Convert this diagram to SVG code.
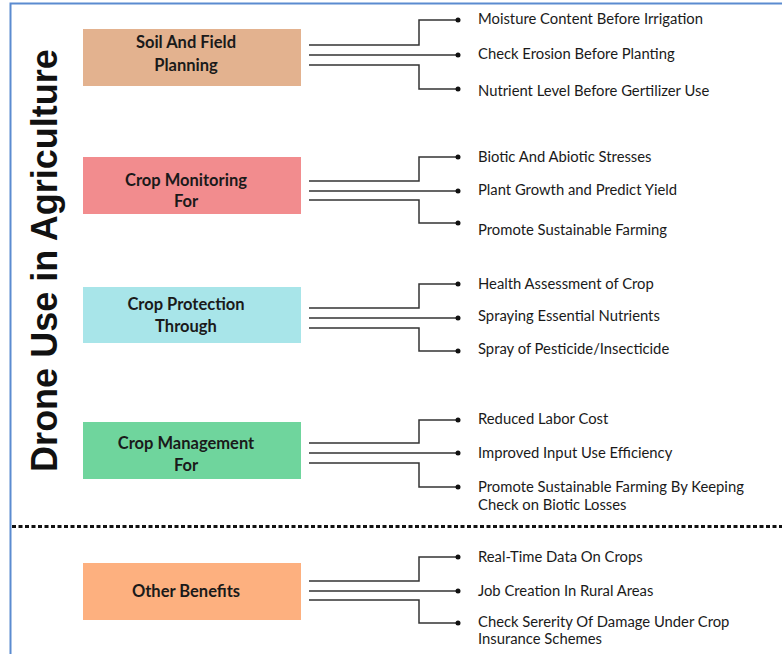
<svg xmlns="http://www.w3.org/2000/svg" width="782" height="654" viewBox="0 0 782 654">
  <style>
    .frame { stroke: #5b8bd0; stroke-width: 2; fill: none; }
    .box { stroke: none; }
    .label { font-family: Lato, "Open Sans", sans-serif; font-weight: bold; font-size: 16.5px; fill: #1a1a1a; text-anchor: middle; }
    .item { font-family: Lato, "Open Sans", sans-serif; font-size: 14.8px; fill: #1a1a1a; }
    .title { font-family: "Liberation Sans", Arial, sans-serif; font-weight: bold; font-size: 36px; fill: #111; text-anchor: middle; }
    .wire { stroke: #333; stroke-width: 1.5; fill: none; }
    .dot { fill: #111; }
    .sep { stroke: #111; stroke-width: 3; stroke-dasharray: 4 2.5; }
  </style>

  <rect width="782" height="654" fill="#ffffff"/>
  <!-- page frame: top and left edges -->
  <path class="frame" d="M782 3.5 H10.5 V654"/>

  <text class="title" transform="translate(57 260.5) rotate(-90)">Drone Use in Agriculture</text>

  <line class="sep" x1="12" y1="526.5" x2="782" y2="526.5"/>

  <!-- category nodes -->
  <g id="soil">
    <rect class="box" x="83" y="29" width="218" height="57" fill="#e3b28f"/>
    <text class="label" x="186" y="48">Soil And Field</text>
    <text class="label" x="186" y="71">Planning</text>
  </g>
  <g id="monitoring">
    <rect class="box" x="83" y="157" width="218" height="57" fill="#f28c8e"/>
    <text class="label" x="186" y="186">Crop Monitoring</text>
    <text class="label" x="186" y="207">For</text>
  </g>
  <g id="protection">
    <rect class="box" x="83" y="287" width="218" height="56" fill="#a8e5e9"/>
    <text class="label" x="186" y="310">Crop Protection</text>
    <text class="label" x="186" y="332">Through</text>
  </g>
  <g id="management">
    <rect class="box" x="83" y="422" width="218" height="57" fill="#6fd59d"/>
    <text class="label" x="186" y="449">Crop Management</text>
    <text class="label" x="186" y="471">For</text>
  </g>
  <g id="benefits">
    <rect class="box" x="83" y="563" width="218" height="57" fill="#fdb07f"/>
    <text class="label" x="186" y="597">Other Benefits</text>
  </g>

  <!-- connectors -->
  <g id="connectors">
    <path class="wire" d="M309 45 H419 V20 H458 M309 55 H458 M309 65 H419 V89 H458"/>
    <circle class="dot" cx="458" cy="20" r="2.5"/><circle class="dot" cx="458" cy="55" r="2.5"/><circle class="dot" cx="458" cy="89" r="2.5"/>

    <path class="wire" d="M309 181 H419 V157 H458 M309 191 H458 M309 200 H419 V223 H458"/>
    <circle class="dot" cx="458" cy="157" r="2.5"/><circle class="dot" cx="458" cy="191" r="2.5"/><circle class="dot" cx="458" cy="223" r="2.5"/>

    <path class="wire" d="M309 308 H419 V284 H458 M309 318 H458 M309 328 H419 V351 H458"/>
    <circle class="dot" cx="458" cy="284" r="2.5"/><circle class="dot" cx="458" cy="318" r="2.5"/><circle class="dot" cx="458" cy="351" r="2.5"/>

    <path class="wire" d="M309 443 H419 V420 H458 M309 453 H458 M309 463 H419 V487 H458"/>
    <circle class="dot" cx="458" cy="420" r="2.5"/><circle class="dot" cx="458" cy="453" r="2.5"/><circle class="dot" cx="458" cy="487" r="2.5"/>

    <path class="wire" d="M309 581 H419 V557 H458 M309 591 H458 M309 600 H419 V623 H458"/>
    <circle class="dot" cx="458" cy="557" r="2.5"/><circle class="dot" cx="458" cy="591" r="2.5"/><circle class="dot" cx="458" cy="623" r="2.5"/>
  </g>

  <!-- leaf items -->
  <g id="soil-items">
    <text class="item" x="478" y="24">Moisture Content Before Irrigation</text>
    <text class="item" x="478" y="59">Check Erosion Before Planting</text>
    <text class="item" x="478" y="96">Nutrient Level Before Gertilizer Use</text>
  </g>
  <g id="monitoring-items">
    <text class="item" x="478" y="162">Biotic And Abiotic Stresses</text>
    <text class="item" x="478" y="195">Plant Growth and Predict Yield</text>
    <text class="item" x="478" y="235">Promote Sustainable Farming</text>
  </g>
  <g id="protection-items">
    <text class="item" x="478" y="289">Health Assessment of Crop</text>
    <text class="item" x="478" y="321">Spraying Essential Nutrients</text>
    <text class="item" x="478" y="354">Spray of Pesticide/Insecticide</text>
  </g>
  <g id="management-items">
    <text class="item" x="478" y="424">Reduced Labor Cost</text>
    <text class="item" x="478" y="458">Improved Input Use Efficiency</text>
    <text class="item" x="478" y="492">Promote Sustainable Farming By Keeping</text>
    <text class="item" x="478" y="510">Check on Biotic Losses</text>
  </g>
  <g id="benefits-items">
    <text class="item" x="478" y="562">Real-Time Data On Crops</text>
    <text class="item" x="478" y="596">Job Creation In Rural Areas</text>
    <text class="item" x="478" y="627">Check Sererity Of Damage Under Crop</text>
    <text class="item" x="478" y="644">Insurance Schemes</text>
  </g>
</svg>
